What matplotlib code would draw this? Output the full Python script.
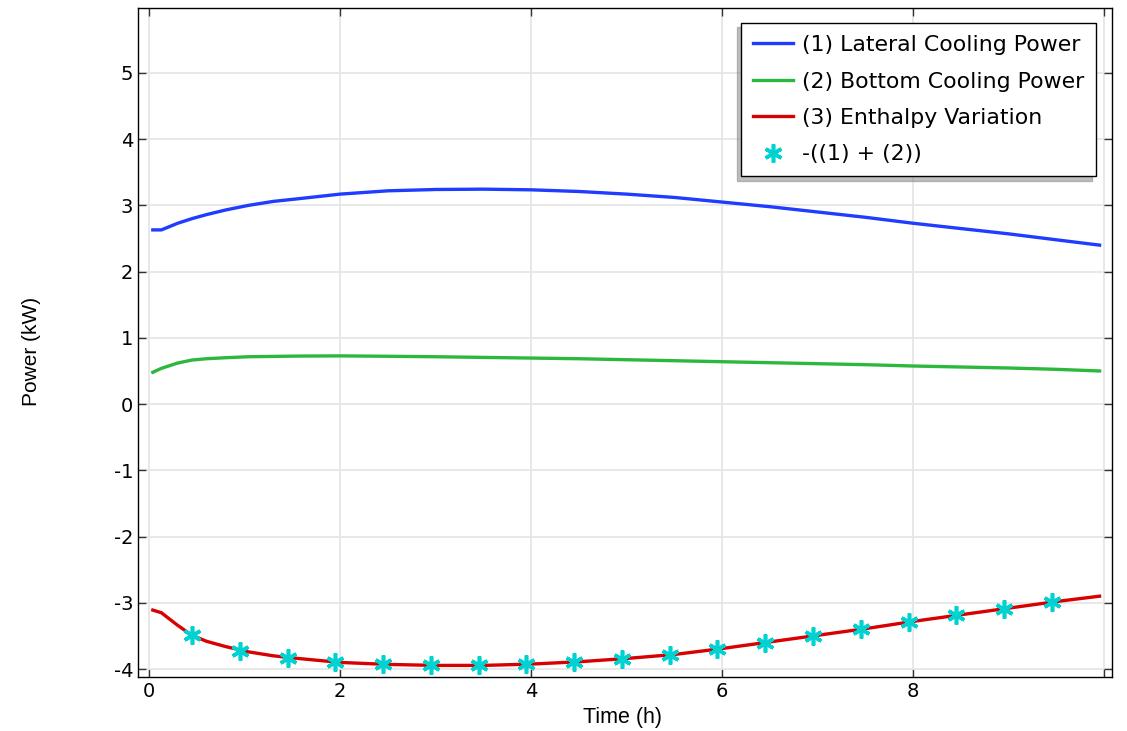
import matplotlib
matplotlib.use("Agg")
import matplotlib.pyplot as plt

plt.rcParams["axes.unicode_minus"] = False

# ---------------------------------------------------------
# Data
# ---------------------------------------------------------
time_h = [0.04, 0.13, 0.3, 0.45, 0.6, 0.8, 1.04, 1.3, 1.56, 2.0, 2.5, 3.0,
          3.5, 4.0, 4.5, 5.0, 5.5, 6.0, 6.5, 7.0, 7.5, 8.0, 8.5, 9.0, 9.5, 9.95]

lateral = [2.63, 2.63, 2.73, 2.80, 2.86, 2.93, 3.00, 3.06, 3.10, 3.17, 3.22,
           3.24, 3.245, 3.235, 3.21, 3.17, 3.12, 3.05, 2.98, 2.90, 2.82, 2.73,
           2.65, 2.57, 2.48, 2.40]

bottom = [0.48, 0.54, 0.62, 0.665, 0.685, 0.70, 0.715, 0.72, 0.725, 0.728,
          0.722, 0.715, 0.705, 0.695, 0.685, 0.67, 0.655, 0.64, 0.625, 0.61,
          0.595, 0.575, 0.56, 0.545, 0.525, 0.50]

enthalpy = [-3.11, -3.15, -3.34, -3.49, -3.58, -3.66, -3.74, -3.80, -3.84,
            -3.90, -3.93, -3.945, -3.945, -3.925, -3.89, -3.84, -3.78, -3.69,
            -3.59, -3.49, -3.39, -3.28, -3.18, -3.08, -2.98, -2.90]

marker_t = [0.45, 0.95, 1.45, 1.95, 2.45, 2.95, 3.45, 3.95, 4.45, 4.95, 5.45,
            5.95, 6.45, 6.95, 7.45, 7.95, 8.45, 8.95, 9.45]
marker_p = [-3.49, -3.73, -3.84, -3.90, -3.93, -3.945, -3.94, -3.925, -3.89,
            -3.845, -3.785, -3.70, -3.60, -3.50, -3.40, -3.29, -3.19, -3.09,
            -2.99]

x_ticks = [0, 2, 4, 6, 8, 10]
x_tick_labels = ["0", "2", "4", "6", "8", ""]
y_ticks = [-4, -3, -2, -1, 0, 1, 2, 3, 4, 5]

# ---------------------------------------------------------
# Figure
# ---------------------------------------------------------
fig = plt.figure(figsize=(11.27, 7.31), dpi=100)
ax = fig.add_axes([138 / 1127, 1 - 677 / 731, (1112 - 138) / 1127, (677 - 8) / 731])

ax.plot(time_h, lateral, color="#1f3cff", lw=2.4, label="(1) Lateral Cooling Power")
ax.plot(time_h, bottom, color="#2cb83c", lw=2.4, label="(2) Bottom Cooling Power")
ax.plot(time_h, enthalpy, color="#d80000", lw=2.4, label="(3) Enthalpy Variation")
ax.plot(marker_t, marker_p, ls="none", marker=(6, 2, 0), ms=13, mew=2.6,
        color="#00d2d2", label="-((1) + (2))")

ax.set_xlim(-0.115, 10.08)
ax.set_ylim(-4.12, 5.98)
ax.set_xticks(x_ticks)
ax.set_xticklabels(x_tick_labels)
ax.set_yticks(y_ticks)
ax.grid(True, color="#e6e6e6", lw=1.3)
ax.set_axisbelow(True)
ax.tick_params(direction="in", length=6, width=1, labelsize=14,
               top=True, right=True, colors="#333333", labelcolor="black")
for s in ax.spines.values():
    s.set_linewidth(1.0)

ax.set_xlabel("Time (h)", fontsize=15.5, family="Liberation Sans")
ax.set_ylabel("Power (kW)", fontsize=15, family="Liberation Sans")
ax.xaxis.set_label_coords(0.497, -0.045)
ax.yaxis.set_label_coords(-0.10, 0.487)

leg = ax.legend(loc="upper right", bbox_to_anchor=(0.9836, 0.9776), fontsize=15.8,
                frameon=True, fancybox=False, edgecolor="black",
                shadow={"ox": -3, "oy": -3, "shade": 0.5},
                borderpad=0.55, labelspacing=0.75, handlelength=1.8,
                handletextpad=0.4, borderaxespad=0)
leg.get_frame().set_linewidth(1.0)
leg.get_frame().set_alpha(1.0)

fig.savefig("out.png", dpi=100)
